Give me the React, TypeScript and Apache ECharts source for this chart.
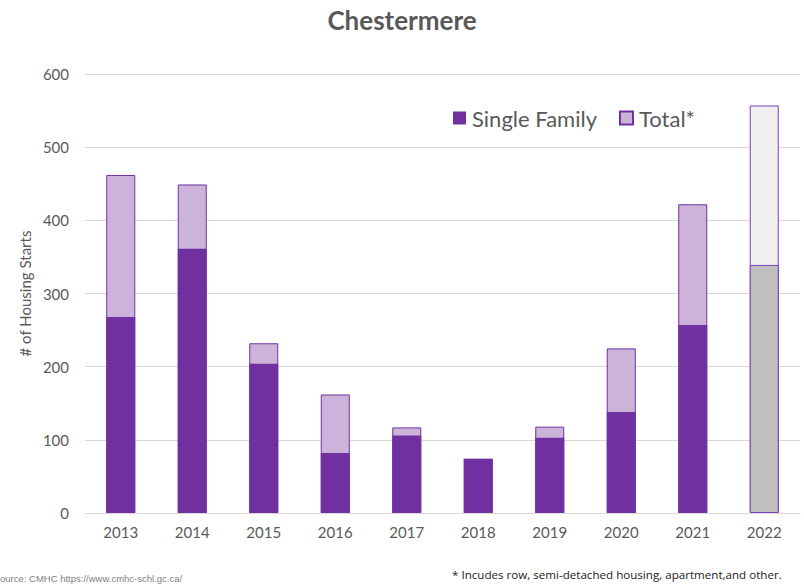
import React, { useEffect, useRef } from "react";
import * as echarts from "echarts";

const categories = ["2013", "2014", "2015", "2016", "2017", "2018", "2019", "2020", "2021", "2022"];
const singleFamily = [268, 361, 204, 82, 106, 74, 103, 138, 257, 339];
const total = [462, 449, 232, 162, 117, 74, 118, 225, 422, 557];
const yTicks = [0, 100, 200, 300, 400, 500, 600];

const PURPLE = "#7030A0";
const LIGHT = "#CCB3D9";
const TEXT = "#595959";
const FONT = "Lato, 'DejaVu Sans', sans-serif";

export default function App() {
  const ref = useRef<HTMLDivElement>(null);
  useEffect(() => {
    if (!ref.current) return;
    const chart = echarts.init(ref.current, null, { renderer: "svg" });
    const last = categories.length - 1;
    chart.setOption({
      animation: false,
      title: {
        text: "Chestermere",
        left: "center",
        top: 2,
        textStyle: { fontFamily: FONT, fontSize: 26, fontWeight: "bold", color: TEXT },
      },
      legend: {
        data: ["Single Family", "Total*"],
        left: 448,
        top: 102,
        icon: "rect",
        itemWidth: 13,
        itemHeight: 13,
        itemGap: 22,
        textStyle: { fontFamily: FONT, fontSize: 22, color: TEXT, padding: [0, 0, 0, 1] },
      },
      grid: { left: 85, right: 4, top: 74, bottom: 73, containLabel: false },
      xAxis: {
        type: "category",
        data: categories,
        axisLine: { show: true, lineStyle: { color: "#D9D9D9", width: 1 } },
        axisTick: { show: false },
        axisLabel: { fontFamily: FONT, fontSize: 15, color: TEXT, margin: 11 },
      },
      yAxis: {
        type: "value",
        min: yTicks[0],
        max: yTicks[yTicks.length - 1],
        interval: 100,
        name: "# of Housing Starts",
        nameLocation: "middle",
        nameGap: 51,
        nameRotate: 90,
        nameTextStyle: { fontFamily: FONT, fontSize: 15, color: TEXT },
        axisLine: { show: false },
        axisTick: { show: false },
        splitLine: { lineStyle: { color: "#D9D9D9", width: 1 } },
        axisLabel: { fontFamily: FONT, fontSize: 15, color: TEXT, margin: 16 },
      },
      series: [
        {
          name: "Total*",
          type: "bar",
          barWidth: 29,
          barGap: "-100%",
          z: 1,
          itemStyle: { color: LIGHT, borderColor: PURPLE, borderWidth: 1 },
          data: total.map((v, i) =>
            i === last
              ? { value: v, itemStyle: { color: "#EFEFEF", borderColor: "#7B3FC0", borderWidth: 1 } }
              : v
          ),
        },
        {
          name: "Single Family",
          type: "bar",
          barWidth: 29,
          barGap: "-100%",
          z: 2,
          itemStyle: { color: PURPLE },
          data: singleFamily.map((v, i) =>
            i === last ? { value: v, itemStyle: { color: "#BFBFBF", borderColor: "#7B3FC0", borderWidth: 1 } } : v
          ),
        },
      ],
      graphic: [
        {
          type: "text",
          left: 0,
          top: 573,
          style: {
            text: "ource: CMHC https://www.cmhc-schl.gc.ca/",
            fontFamily: "'Liberation Sans', Arial, sans-serif",
            fontSize: 9.5,
            fill: "#7F7F7F",
          },
        },
        {
          type: "text",
          left: 452,
          top: 568,
          style: {
            text: "* Incudes row, semi-detached housing, apartment,and other.",
            fontFamily: "'Open Sans', 'Liberation Sans', sans-serif",
            fontSize: 11.6,
            fill: "#222222",
          },
        },
      ],
    });
    return () => chart.dispose();
  }, []);
  return <div ref={ref} style={{ width: 804, height: 586, position: "absolute", left: 0, top: 0, background: "#fff" }} />;
}
